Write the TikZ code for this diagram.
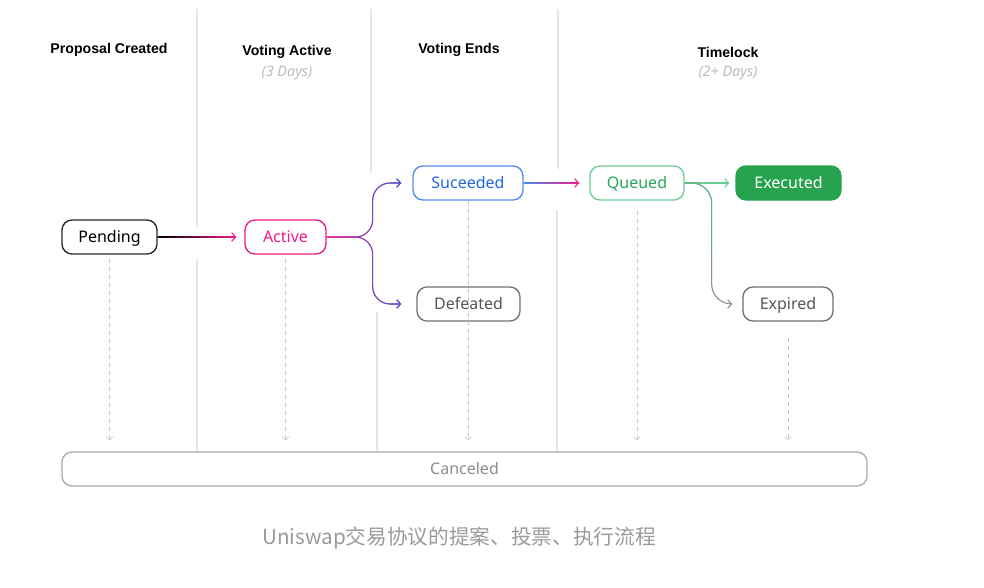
\documentclass[tikz,border=0pt]{standalone}
\usepackage{fontspec}
\setmainfont{Noto Sans}
\newfontfamily\hdrfont{Liberation Sans}
\newfontfamily\cjk{Noto Sans CJK SC}
\usetikzlibrary{arrows.meta,fadings,calc}
\definecolor{upink}{HTML}{F01A8A}
\definecolor{ublue}{HTML}{2266E3}
\definecolor{ubluebd}{HTML}{4D8AF0}
\definecolor{ugreen}{HTML}{27A559}
\definecolor{ugreenbd}{HTML}{6DCB93}
\definecolor{ugreenfl}{HTML}{27A350}
\definecolor{dgraybd}{HTML}{707070}
\definecolor{dgraytx}{HTML}{555555}
\definecolor{cgraybd}{HTML}{ABABAB}
\definecolor{cgraytx}{HTML}{8C8C8C}
\definecolor{sepgray}{HTML}{E6E6E6}
\definecolor{lgray}{HTML}{C8C8C8}
\definecolor{subgray}{HTML}{BBBBBB}
\definecolor{capgray}{HTML}{9A9A9A}
\definecolor{expgray}{HTML}{8A8A8A}
\definecolor{expgreen}{HTML}{5BBE85}
\tikzfading[name=fadeinright, left color=transparent!100, right color=transparent!0]
\tikzfading[name=fadeoutdown, top color=transparent!0, bottom color=transparent!100]
\begin{document}
\begin{tikzpicture}[x=0.75pt,y=-0.75pt,
  box/.style={draw, rounded corners=7.5pt, line width=1pt, minimum height=25.5pt, inner sep=0pt, text height=9pt, text depth=0.4pt, font=\fontsize{12}{14}\selectfont},
  hdr/.style={font=\hdrfont\bfseries\fontsize{10.6}{12}\selectfont, text=black, inner sep=0pt},
  subhdr/.style={font=\fontsize{10.8}{12}\selectfont\itshape, text=subgray, inner sep=0pt},
  sepline/.style={draw=sepgray, line width=1.1pt},
  dasharrow/.style={draw=lgray, dash pattern=on 3pt off 3pt, line width=0.6pt, -{Straight Barb[length=2.5pt,width=5pt]}, shorten >=8pt},
  arr/.style={line width=0.8pt, -{Straight Barb[length=3pt,width=6.5pt]}},
  tiponly/.style={line width=0.8pt, -{Straight Barb[length=3pt,width=6.5pt]}}
]
\useasboundingbox (0,0) rectangle (984,588);

% separators
\draw[sepline] (197,9) -- (197,227);
\draw[sepline] (197,259) -- (197,451);
\draw[sepline] (371,9) -- (371,173);
\draw[sepline] (377,312) -- (377,451);
\draw[sepline] (558,9) -- (558,169);
\draw[sepline] (557,210) -- (557,451);

% headers
\node[hdr] (h1) at (109,50) {Proposal Created};
\node[hdr] (h2) at (287,52) {Voting Active};
\node[subhdr] (h2s) at (287,73) {(3 Days)};
\node[hdr] (h3) at (459,50) {Voting Ends};
\node[hdr] (h4) at (728,52) {Timelock};
\node[subhdr] (h4s) at (728,73) {(2+ Days)};

% nodes
\node[box, draw=black!85, text=black, minimum width=71.25pt] (pend) at (109.5,237) {Pending};
\node[box, draw=upink, text=upink, minimum width=60.75pt] (actv) at (285.5,237) {Active};
\node[box, draw=ubluebd, text=ublue, minimum width=82.5pt] (suc) at (468,183) {Suceeded};
\node[box, draw=dgraybd, text=dgraytx, minimum width=77.25pt] (def) at (468.5,304) {Defeated};
\node[box, draw=ugreenbd, text=ugreen, minimum width=70.5pt] (que) at (637,183) {Queued};
\node[box, fill=ugreenfl, draw=ugreenfl, text=white, minimum width=78.75pt] (exe) at (788.5,183) {Executed};
\node[box, draw=dgraybd, text=dgraytx, minimum width=67.5pt] (exp) at (788,304) {Expired};
\node[box, draw=cgraybd, text=cgraytx, minimum width=603.75pt] (can) at (464.5,469) {Canceled};

% dashed arrows to Canceled
\draw[dasharrow, shorten <=3pt] (pend.south) -- (pend.south |- can.north);
\draw[dasharrow, shorten <=3pt] (actv.south) -- (actv.south |- can.north);
\draw[dasharrow] (suc.south) -- (suc.south |- can.north);
\draw[dasharrow, shorten <=7.5pt] (que.south) -- (que.south |- can.north);
\draw[dasharrow, shorten <=12pt] (exp.south) -- (exp.south |- can.north);

% coordinates
\coordinate (a1) at ($(actv.west)+(-8,0)$);
\coordinate (br) at ($(actv.east)+(46,0)$);
\coordinate (a2) at ($(suc.west)+(-11,0)$);
\coordinate (a2b) at ($(def.west)+(-15,0)$);
\coordinate (a3) at ($(que.west)+(-10,0)$);
\coordinate (a4) at ($(exe.west)+(-6,0)$);
\coordinate (qb) at ($(que.east)+(27,0)$);
\coordinate (a5) at ($(exp.west)+(-10,0)$);

% Pending -> Active (black to pink)
\shade[left color=black, right color=upink] ($(pend.east)+(0,-0.55)$) rectangle ($(a1)+(-1,0.55)$);
\draw[tiponly, upink] ($(a1)+(-2,0)$) -- (a1);

% Active -> Suceeded / Defeated (pink to blue)
\draw[arr, upink, rounded corners=13pt] (actv.east) -- (br) |- (a2);
\draw[arr, ublue, rounded corners=13pt, path fading=fadeinright] (actv.east) -- (br) |- (a2);
\draw[arr, upink, rounded corners=13pt] (actv.east) -- (br) |- (a2b);
\draw[arr, ublue, rounded corners=13pt, path fading=fadeinright] (actv.east) -- (br) |- (a2b);

% Suceeded -> Queued (blue to pink)
\shade[left color=ubluebd, right color=upink] ($(suc.east)+(0,-0.55)$) rectangle ($(a3)+(-1,0.55)$);
\draw[tiponly, upink] ($(a3)+(-2,0)$) -- (a3);

% Queued -> Executed
\draw[arr, ugreenbd] (que.east) -- (a4);

% Queued -> Expired (green to gray)
\draw[arr, expgray, rounded corners=15pt] (que.east) -- (qb) |- (a5);
\draw[arr, expgreen, rounded corners=15pt, path fading=fadeoutdown] (que.east) -- (qb) |- (a5);

% caption
\node[font=\cjk\fontsize{15.5}{18}\selectfont, text=capgray, inner sep=0pt] (cap) at (459,538) {Uniswap交易协议的提案、投票、执行流程};
\end{tikzpicture}
\end{document}
